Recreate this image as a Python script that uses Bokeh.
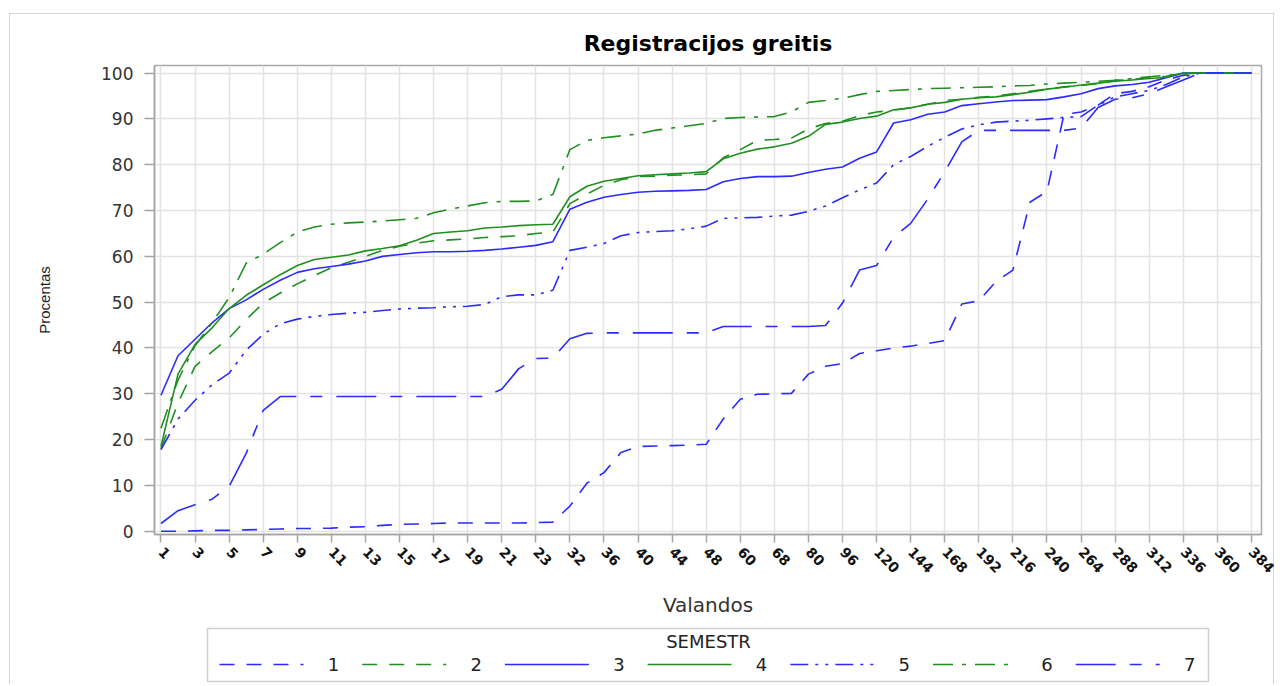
from bokeh.plotting import figure
from bokeh.models import Range1d, FixedTicker
from bokeh.layouts import column
from bokeh.embed import file_html
from bokeh.resources import INLINE
from bokeh.core.properties import value

# ---- data ----
hours = [1, 2, 3, 4, 5, 6, 7, 8, 9, 10, 11, 12, 13, 14, 15, 16, 17, 18, 19, 20, 21, 22, 23, 24,
         32, 34, 36, 38, 40, 42, 44, 46, 48,
         54, 60, 64, 68, 72, 80, 88, 96, 108, 120, 132, 144, 156, 168, 180, 192, 204, 216, 228, 240, 252,
         264, 276, 288, 300, 312, 324, 336, 348, 360, 372, 384]

semestr = ["1", "2", "3", "4", "5", "6", "7"]

s1 = [0.0, 0.0, 0.1, 0.2, 0.2, 0.3, 0.4, 0.5, 0.6, 0.6, 0.7, 0.9, 1.0, 1.3, 1.5, 1.6, 1.7, 1.8, 1.8, 1.8, 1.8, 1.8, 1.9, 2.0,
      5.5, 10.5, 12.8, 17.2, 18.5, 18.6, 18.7, 18.8, 19.0,
      24.5, 28.8, 29.9, 30.0, 30.1, 34.3, 36.0, 36.6, 38.8, 39.4, 40.0, 40.4, 41.0, 41.6, 49.6, 50.3, 54.5, 57.0, 71.8, 74.2, 91.0,
      91.5, 93.0, 95.5, 96.0, 97.0, 98.5, 99.5, 100.0, 100.0, 100.0, 100.0]
s2 = [18.0, 28.0, 36.0, 39.2, 42.2, 46.2, 49.8, 52.0, 54.0, 55.8, 57.5, 58.7, 60.0, 61.3, 62.2, 62.9, 63.4, 63.6, 63.8, 64.1, 64.3, 64.5, 65.0, 65.3,
      71.5, 73.6, 75.5, 76.7, 77.4, 77.5, 77.7, 77.8, 78.0,
      81.5, 83.3, 85.3, 85.5, 85.8, 87.8, 89.0, 89.5, 90.7, 91.5, 91.9, 92.4, 93.2, 94.0, 94.3, 94.7, 95.0, 95.5, 96.0, 96.5, 97.0,
      97.3, 97.7, 98.4, 98.6, 99.0, 99.3, 100.0, 100.0, 100.0, 100.0, 100.0]
s3 = [29.7, 38.3, 41.9, 45.5, 48.6, 50.5, 52.8, 54.8, 56.5, 57.3, 57.8, 58.3, 59.0, 60.0, 60.4, 60.8, 61.0, 61.0, 61.1, 61.3, 61.6, 62.0, 62.4, 63.2,
      70.3, 71.8, 72.9, 73.5, 74.0, 74.2, 74.3, 74.4, 74.6,
      76.3, 77.0, 77.4, 77.4, 77.5, 78.3, 79.0, 79.5, 81.4, 82.8, 89.1, 89.8, 91.0, 91.5, 92.9, 93.3, 93.7, 94.0, 94.1, 94.2, 94.8,
      95.5, 96.6, 97.2, 97.5, 98.0, 99.0, 100.0, 100.0, 100.0, 100.0, 100.0]
s4 = [18.5, 34.3, 40.8, 44.4, 48.6, 51.5, 53.8, 56.0, 58.0, 59.3, 59.8, 60.3, 61.2, 61.7, 62.3, 63.5, 65.0, 65.3, 65.6, 66.2, 66.4, 66.7, 66.9, 67.0,
      73.0, 75.3, 76.4, 77.0, 77.6, 77.8, 78.0, 78.2, 78.5,
      81.3, 82.5, 83.4, 83.9, 84.7, 86.2, 88.8, 89.3, 90.1, 90.6, 92.0, 92.4, 93.2, 93.6, 94.3, 94.6, 94.8, 95.3, 95.8, 96.5, 96.9,
      97.4, 97.8, 98.2, 98.5, 98.8, 99.1, 100.0, 100.0, 100.0, 100.0, 100.0]
s5 = [17.8, 24.5, 28.6, 32.0, 34.5, 39.5, 43.0, 45.3, 46.3, 46.9, 47.3, 47.6, 47.8, 48.2, 48.5, 48.7, 48.8, 49.0, 49.1, 49.5, 51.2, 51.6, 51.6, 52.6,
      61.3, 62.0, 62.8, 64.5, 65.2, 65.4, 65.6, 66.0, 66.6,
      68.3, 68.4, 68.5, 68.8, 69.0, 69.8, 71.0, 72.8, 74.5, 76.0, 80.0, 81.8, 84.0, 86.0, 87.8, 88.7, 89.3, 89.5, 89.7, 90.0, 90.3,
      90.5, 93.0, 94.8, 95.5, 96.2, 97.5, 99.2, 100.0, 100.0, 100.0, 100.0]
s6 = [22.5, 33.0, 40.5, 45.5, 51.0, 58.5, 60.5, 63.0, 65.3, 66.4, 67.0, 67.3, 67.5, 67.7, 68.0, 68.3, 69.5, 70.3, 71.0, 71.7, 72.0, 72.0, 72.1, 73.5,
      83.3, 85.3, 85.9, 86.3, 86.7, 87.5, 88.0, 88.5, 89.0,
      90.1, 90.3, 90.4, 90.5, 91.5, 93.6, 94.0, 94.5, 95.3, 96.0, 96.2, 96.4, 96.6, 96.7, 96.8, 96.9, 97.0, 97.2, 97.3, 97.6, 97.8,
      98.0, 98.2, 98.4, 98.8, 99.2, 99.5, 99.8, 100.0, 100.0, 100.0, 100.0]
s7 = [1.7, 4.5, 5.8, 7.0, 9.8, 17.0, 26.4, 29.4, 29.4, 29.4, 29.4, 29.4, 29.4, 29.4, 29.4, 29.4, 29.4, 29.4, 29.4, 29.4, 31.0, 35.5, 37.7, 37.8,
      42.0, 43.2, 43.3, 43.3, 43.3, 43.3, 43.3, 43.3, 43.3,
      44.7, 44.7, 44.7, 44.7, 44.7, 44.7, 44.9, 49.8, 57.0, 58.0, 64.2, 67.2, 72.5, 78.5, 85.0, 87.5, 87.5, 87.5, 87.5, 87.5, 87.5,
      88.0, 92.5, 94.3, 94.6, 95.5, 97.0, 98.5, 100.0, 100.0, 100.0, 100.0]

series = [s1, s2, s3, s4, s5, s6, s7]

# ---- style ----
BLUE = "#2b2bff"
GREEN = "#1f8f1f"
colors = [BLUE, GREEN, BLUE, GREEN, BLUE, GREEN, BLUE]
dashes = ["15 12", "15 12", "solid", "solid", "18 7 3 7 3 7", "20 9 4 9", "40 14 12 14"]
FONT = "DejaVu Sans"
yticks = [0, 10, 20, 30, 40, 50, 60, 70, 80, 90, 100]

x = list(range(len(hours)))

p = figure(width=1280, height=620, output_backend="svg", toolbar_location=None,
           x_range=Range1d(-0.38, 64.59), y_range=Range1d(-0.7, 101.65),
           min_border_left=154, min_border_right=19, min_border_top=65, min_border_bottom=81,
           title="Registracijos greitis")
p.title.align = "center"
p.title.text_font = FONT
p.title.text_font_size = "22px"
p.title.text_font_style = "bold"
p.title.text_color = "#000000"
p.title.standoff = 19

for s, c, d in zip(series, colors, dashes):
    p.line(x, s, line_color=c, line_dash=d, line_width=1.6)

# x axis
p.xaxis.ticker = FixedTicker(ticks=x[::2])
p.xaxis.major_label_overrides = {i: str(hours[i]) for i in x[::2]}
p.xaxis.major_label_orientation = -0.8
p.xaxis.major_label_text_font = FONT
p.xaxis.major_label_text_font_style = "bold"
p.xaxis.major_label_text_font_size = "14px"
p.xaxis.major_label_text_color = "#111111"
p.xaxis.major_label_standoff = 7
p.xaxis.axis_label = "Valandos"
p.xaxis.axis_label_text_font = FONT
p.xaxis.axis_label_text_font_size = "20px"
p.xaxis.axis_label_text_font_style = "normal"
p.xaxis.axis_label_text_color = "#333333"
p.xaxis.axis_label_standoff = 13
p.xaxis.major_tick_out = 8
p.xaxis.major_tick_in = 0

# y axis
p.yaxis.ticker = FixedTicker(ticks=yticks)
p.yaxis.major_label_text_font = FONT
p.yaxis.major_label_text_font_size = "17px"
p.yaxis.major_label_text_color = "#333333"
p.yaxis.major_label_standoff = 11
p.yaxis.axis_label = "Procentas"
p.yaxis.axis_label_text_font = "Liberation Sans"
p.yaxis.axis_label_text_font_size = "15px"
p.yaxis.axis_label_text_font_style = "normal"
p.yaxis.axis_label_text_color = "#222222"
p.yaxis.axis_label_standoff = 45
p.yaxis.major_tick_out = 10
p.yaxis.major_tick_in = 0

for ax in (p.xaxis, p.yaxis):
    ax.minor_tick_line_color = None
    ax.axis_line_color = "#a4a4a4"
    ax.axis_line_width = 1.5
    ax.major_tick_line_color = "#a4a4a4"
    ax.major_tick_line_width = 1.5

p.xgrid.ticker = FixedTicker(ticks=x[::2])
p.ygrid.ticker = FixedTicker(ticks=yticks)
p.grid.grid_line_color = "#e3e3e3"
p.grid.grid_line_width = 1.5
p.outline_line_color = "#a8a8a8"
p.outline_line_width = 1.5
p.background_fill_color = "white"
p.border_fill_color = None

# ---- legend strip (its frame is aligned with the main plot frame: x 154..1261 in page px) ----
lg = figure(width=1280, height=64, output_backend="svg", toolbar_location=None,
            x_range=Range1d(154, 1261), y_range=Range1d(684, 620),
            x_axis_type=None, y_axis_type=None, min_border=0)
lg.grid.visible = False
lg.outline_line_color = None
lg.background_fill_color = None
lg.border_fill_color = None
lg.quad(left=[207], right=[1208], top=[628], bottom=[681], fill_color="white",
        line_color="#cfcfcf", line_width=1.5)
lg.text(x=[708], y=[641], text=["SEMESTR"], text_align="center", text_baseline="middle",
        text_font=value(FONT), text_font_size="18px", text_color="#222222")
pitch = 142.7
for k, (name, c, d) in enumerate(zip(semestr, colors, dashes)):
    x0 = 219 + k * pitch
    lg.line([x0, x0 + 84], [664, 664], line_color=c, line_dash=d, line_width=1.6)
    lg.text(x=[333 + k * pitch], y=[664], text=[name], text_align="center", text_baseline="middle",
            text_font=value(FONT), text_font_size="18px", text_color="#222222")

# faint outer frame around the whole chart (page background lines)
frame_css = {
    "background-color": "white",
    "background-image": "linear-gradient(#d4d4d4,#d4d4d4), linear-gradient(#d4d4d4,#d4d4d4), linear-gradient(#d4d4d4,#d4d4d4)",
    "background-size": "1265px 1px, 1px 700px, 1px 700px",
    "background-position": "9px 13px, 9px 13px, 1273px 13px",
    "background-repeat": "no-repeat",
}
layout = column(p, lg, spacing=0, styles=frame_css)
open("out.html", "w").write(file_html(layout, INLINE))
